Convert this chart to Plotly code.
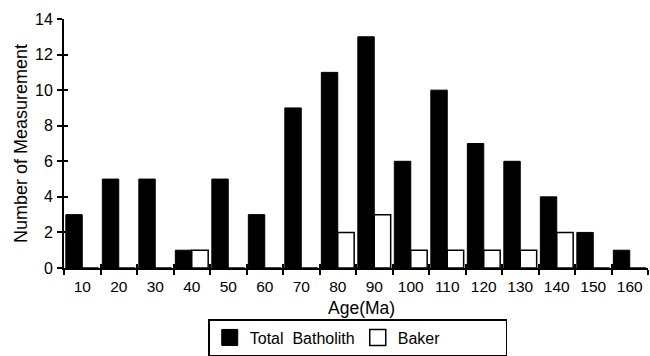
import numpy as np
import plotly.graph_objects as go

ages = ["10", "20", "30", "40", "50", "60", "70", "80", "90", "100", "110", "120", "130", "140", "150", "160"]
total_batholith = [3, 5, 5, 1, 5, 3, 9, 11, 13, 6, 10, 7, 6, 4, 2, 1]
baker = [0, 0, 0, 1, 0, 0, 0, 2, 3, 1, 1, 1, 1, 2, 0, 0]
y_ticks = [0, 2, 4, 6, 8, 10, 12, 14]
series_names = ["Total\u00a0\u00a0Batholith", "Baker"]
x_title = "Age(Ma)"
y_title = "Number of Measurement"

FONT = "Liberation Sans, Arial, sans-serif"

fig = go.Figure()
fig.add_trace(go.Bar(
    x=ages, y=total_batholith, name=series_names[0], showlegend=False,
    marker=dict(color="black", line=dict(color="black", width=1)),
))
fig.add_trace(go.Bar(
    x=ages, y=baker, name=series_names[1], showlegend=False,
    marker=dict(color="white", line=dict(color="black", width=1.5)),
))
# legend-only entries with larger square swatches
fig.add_trace(go.Scatter(
    x=[None], y=[None], mode="markers", name=series_names[0],
    marker=dict(symbol="square", size=16, color="black",
                line=dict(color="black", width=1)),
))
fig.add_trace(go.Scatter(
    x=[None], y=[None], mode="markers", name=series_names[1],
    marker=dict(symbol="square", size=16, color="white",
                line=dict(color="black", width=1.5)),
))

boundaries = np.arange(len(ages) + 1) - 0.5

fig.update_layout(
    width=650, height=356,
    margin=dict(l=64, r=2, t=19, b=88, autoexpand=False),
    paper_bgcolor="white", plot_bgcolor="white",
    barmode="group", bargap=0.1, bargroupgap=0,
    font=dict(family=FONT, color="black", size=15),
    showlegend=True,
    legend=dict(
        orientation="h", x=0.247, xanchor="left", y=-0.205, yanchor="top",
        bordercolor="black", borderwidth=1.5, bgcolor="white",
        font=dict(size=16, family=FONT), entrywidth=103, entrywidthmode="pixels",
        traceorder="normal", itemwidth=30, itemsizing="trace",
    ),
    xaxis=dict(
        type="category", range=[-0.5, len(ages) - 0.5],
        showline=True, linecolor="black", linewidth=2,
        ticks="outside", ticklen=5, tickwidth=2, tickcolor="black",
        tickson="boundaries", showgrid=False, zeroline=False,
        tickfont=dict(size=15.5), ticklabelstandoff=3, tickangle=0,
        automargin=False,
    ),
    xaxis2=dict(
        overlaying="x", range=[-0.5, len(ages) - 0.5], showline=False,
        tickmode="array", tickvals=boundaries, ticks="inside", ticklen=4,
        tickwidth=2, tickcolor="black", showticklabels=False, showgrid=False,
        zeroline=False, side="bottom",
    ),
    yaxis=dict(
        range=[0, 14], tickvals=y_ticks,
        showline=True, linecolor="black", linewidth=2,
        ticks="outside", ticklen=5, tickwidth=2, tickcolor="black",
        showgrid=False, zeroline=False, tickfont=dict(size=16),
        ticklabelstandoff=1, automargin=False,
        title=dict(text=y_title, font=dict(size=18), standoff=3),
    ),
    yaxis2=dict(
        overlaying="y", range=[0, 14], tickvals=y_ticks, ticks="inside",
        ticklen=4, tickwidth=2, tickcolor="black", showticklabels=False,
        showgrid=False, zeroline=False, side="left", showline=False,
    ),
    annotations=[dict(
        text=x_title, xref="paper", yref="paper", x=0.51, y=-0.16,
        xanchor="center", yanchor="middle", showarrow=False,
        font=dict(size=17.5, family=FONT, color="black"),
    )],
)
# invisible helper trace to anchor the overlay axes
fig.add_trace(go.Scatter(x=[None], y=[None], xaxis="x2", yaxis="y2",
                         showlegend=False, hoverinfo="skip"))

fig.write_html("out.html", config={"displayModeBar": False},
               post_script="document.body.style.margin='0';document.body.style.overflow='hidden';")
